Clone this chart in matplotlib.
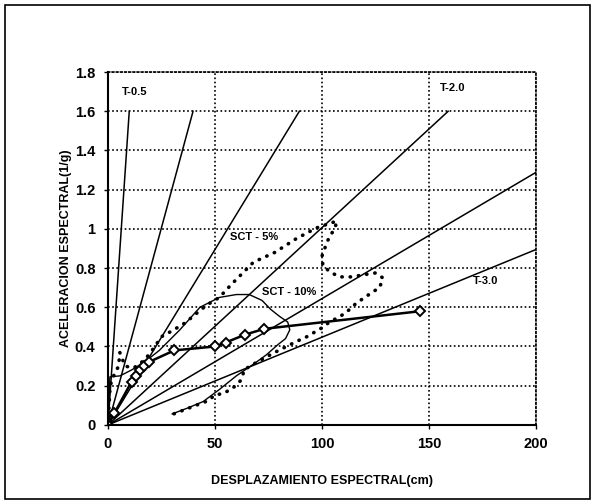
import numpy as np
import matplotlib
matplotlib.use("Agg")
import matplotlib.pyplot as plt
from matplotlib.patches import Rectangle

plt.rcParams['font.family'] = ['Liberation Sans', 'DejaVu Sans']
plt.rcParams['font.weight'] = 'bold'

G = 981.0
# periods of the radial lines (s); the first four stop at Sa = 1.6, the rest at Sd = 200
periods = [0.5, 1.0, 1.5, 2.0, 2.5, 3.0]

# capacity curve (diamonds)
cap_sd = [0, 3, 11, 13, 15, 17, 19, 31, 50, 55, 64, 73, 146]
cap_sa = [0, 0.06, 0.22, 0.25, 0.28, 0.30, 0.32, 0.38, 0.40, 0.42, 0.46, 0.49, 0.58]

# SCT 5% demand spectrum (dotted)
sct5_sd = [0, 1, 3, 5, 5.5, 8, 12, 17, 20, 25, 30, 36, 41.5, 46, 52, 58, 68, 78, 88,
           97.5, 107, 106, 103.5, 102, 100, 100.5, 104, 108, 114, 119, 125, 128.5,
           127, 124, 116, 111, 103, 100, 93, 88, 78, 68, 63.5, 63, 62, 58.6, 54, 50,
           47, 40, 30.5]
sct5_sa = [0, 0.2, 0.26, 0.30, 0.37, 0.30, 0.29, 0.33, 0.37, 0.45, 0.48, 0.52, 0.57,
           0.61, 0.65, 0.72, 0.83, 0.88, 0.95, 1.005, 1.04, 1.00, 0.96, 0.92, 0.86,
           0.81, 0.78, 0.755, 0.755, 0.765, 0.775, 0.75, 0.70, 0.68, 0.62, 0.57, 0.52,
           0.495, 0.45, 0.425, 0.37, 0.31, 0.28, 0.25, 0.226, 0.19, 0.16, 0.153,
           0.124, 0.095, 0.055]

# SCT 10% demand spectrum (thin solid)
sct10_sd = [0, 0.9, 5.6, 11, 17, 24, 33.6, 43, 52, 60, 66, 72, 76, 80, 84, 85, 83,
            79.5, 74, 68.7, 60, 52, 44.5, 37, 30]
sct10_sa = [0, 0.245, 0.25, 0.28, 0.32, 0.38, 0.485, 0.60, 0.65, 0.665, 0.665, 0.635,
            0.59, 0.555, 0.525, 0.485, 0.44, 0.41, 0.357, 0.315, 0.25, 0.18, 0.119,
            0.085, 0.056]

y_ticks = [0, 0.2, 0.4, 0.6, 0.8, 1.0, 1.2, 1.4, 1.6, 1.8]
y_labels = ['0', '0.2', '0.4', '0.6', '0.8', '1', '1.2', '1.4', '1.6', '1.8']
x_ticks = [0, 50, 100, 150, 200]

fig = plt.figure(figsize=(5.95, 5.04), dpi=100)
ax = fig.add_axes([0.1815, 0.157, 0.719, 0.700])

# radial period lines
for T in periods:
    k = G * (T / (2 * np.pi)) ** 2
    sd_end = min(1.6 * k, 200)
    ax.plot([0, sd_end], [0, sd_end / k], color='black', lw=1.1)

ax.plot(sct10_sd, sct10_sa, color='black', lw=1.0)
ax.plot(sct5_sd, sct5_sa, color='black', lw=2.6, linestyle=(0, (0.1, 2.2)),
        dash_capstyle='round')
ax.plot(cap_sd, cap_sa, color='black', lw=1.8, marker='D', ms=5,
        mfc='white', mec='black', mew=1.4)

ax.text(6.5, 1.70, 'T-0.5', fontsize=8, fontweight='bold', va='center')
ax.text(155, 1.72, 'T-2.0', fontsize=8, fontweight='bold', va='center')
ax.text(170.5, 0.735, 'T-3.0', fontsize=8, fontweight='bold', va='center')
ax.text(57, 0.96, 'SCT - 5%', fontsize=8, fontweight='bold', va='center')
ax.text(72, 0.68, 'SCT - 10%', fontsize=8, fontweight='bold', va='center')

ax.set_xlim(0, 200)
ax.set_ylim(0, 1.8)
ax.set_xticks(x_ticks)
ax.set_xticklabels([str(v) for v in x_ticks], fontsize=10.5, fontweight='bold')
ax.set_yticks(y_ticks)
ax.set_yticklabels(y_labels, fontsize=10.5, fontweight='bold')
ax.tick_params(direction='out', length=3, width=1, pad=6)
ax.grid(True, color='black', linestyle=(0, (1, 1.5)), lw=1.2)
for s in ['top', 'right']:
    ax.spines[s].set_linestyle((0, (1, 1.5)))
    ax.spines[s].set_linewidth(1.2)
for s in ['left', 'bottom']:
    ax.spines[s].set_linewidth(1.5)

ax.set_xlabel('DESPLAZAMIENTO ESPECTRAL(cm)', fontsize=9, fontweight='bold', labelpad=17)
ax.set_ylabel('ACELERACION ESPECTRAL(1/g)', fontsize=9, fontweight='bold', labelpad=2)

fig.patches.append(Rectangle((0.008, 0.01), 0.984, 0.98, transform=fig.transFigure,
                             fill=False, edgecolor='black', lw=1.2))

fig.savefig('out.png', dpi=100)
